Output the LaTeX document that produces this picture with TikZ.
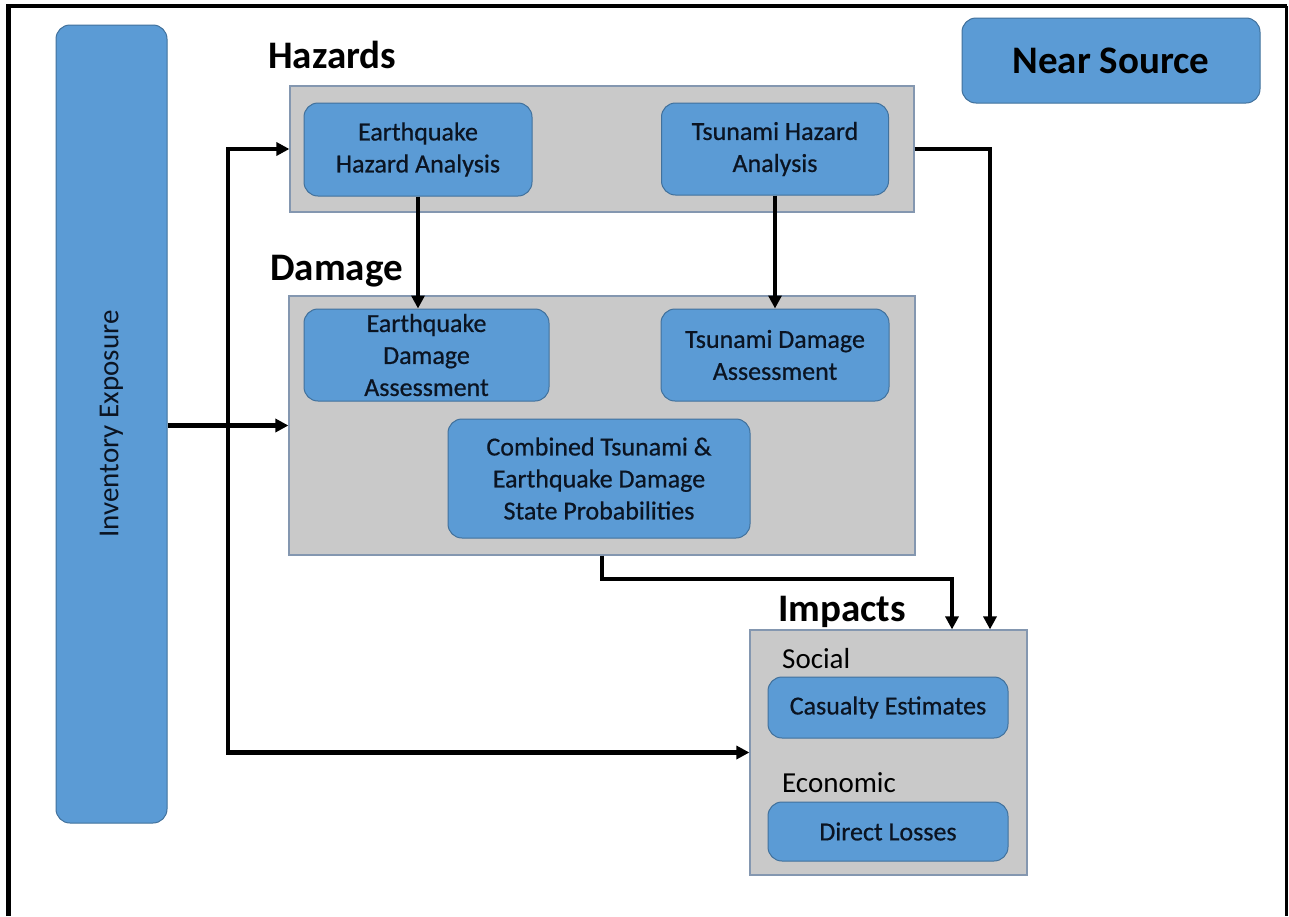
\documentclass[tikz,border=0pt]{standalone}
\usepackage{fontspec}
\setmainfont{Carlito}
\usetikzlibrary{arrows.meta}
\definecolor{boxblue}{HTML}{5B9BD5}
\definecolor{boxedge}{HTML}{41719C}
\definecolor{panelgrey}{HTML}{C9C9C9}
\definecolor{paneledge}{HTML}{8497B0}
\definecolor{inktext}{HTML}{0B1422}

\begin{document}
\begin{tikzpicture}[x=1pt,y=-1pt,
  blockbox/.style={draw=boxedge, fill=boxblue, line width=1pt, rounded corners=14pt,
    inner sep=0pt, align=center, text=inktext,
    font=\fontsize{26}{32}\selectfont\addfontfeature{FakeBold=0.6}},
  panel/.style={draw=paneledge, fill=panelgrey, line width=1.2pt, inner sep=0pt},
  heading/.style={font=\fontsize{39}{46}\selectfont\bfseries, inner sep=0pt, anchor=base west},
  sublabel/.style={font=\fontsize{29}{34}\selectfont, inner sep=0pt, anchor=base west},
  flow/.style={line width=4.2pt, -{Triangle[length=13pt,width=13pt]}},
  flowboth/.style={line width=4.2pt, {Triangle[length=13pt,width=13pt]}-{Triangle[length=13pt,width=13pt]}},
]
\useasboundingbox (0,0) rectangle (1289,916);
\fill[white] (0,0) rectangle (1289,916);

% outer frame
\draw[line width=4.5pt] (8.5,916) -- (8.5,6) -- (1286.5,6);
\draw[line width=3pt] (1286.5,6) -- (1286.5,916);

% side column and badge
\node[blockbox, minimum width=111pt, minimum height=798pt] (inv) at (111.5,424) {};
\node[rotate=90, inner sep=0pt, text=inktext, font=\fontsize{29}{34}\selectfont] (invlbl) at (inv.center) {Inventory Exposure};
\node[blockbox, minimum width=298pt, minimum height=85pt, font=\fontsize{39}{46}\selectfont\bfseries, text=black] (near) at (1111,60.5) {Near Source};

% grey panels
\node[panel, minimum width=624pt, minimum height=126pt] (hazG) at (602,149) {};
\node[panel, minimum width=626pt, minimum height=259pt] (dmgG) at (602,425.5) {};
\node[panel, minimum width=277pt, minimum height=245pt] (impG) at (888.5,752.5) {};

% panel headings
\node[heading] (hazT) at (268,68) {Hazards};
\node[heading] (dmgT) at (270,280) {Damage};
\node[heading] (impT) at (778,621) {Impacts};

% hazard boxes
\node[blockbox, minimum width=228pt, minimum height=93pt] (eqH) at (418,149.5) {Earthquake\\Hazard Analysis};
\node[blockbox, minimum width=227pt, minimum height=92pt] (tsH) at (775,149) {Tsunami Hazard\\Analysis};

% damage boxes
\node[blockbox, minimum width=245pt, minimum height=92pt] (eqD) at (426.5,355) {Earthquake\\Damage\\Assessment};
\node[blockbox, minimum width=228pt, minimum height=92pt] (tsD) at (775,355) {Tsunami Damage\\Assessment};
\node[blockbox, minimum width=302pt, minimum height=119pt] (comb) at (599,478.5) {Combined Tsunami \&\\Earthquake Damage\\State Probabilities};

% impact boxes
\node[sublabel] (soc) at (782,668) {Social};
\node[blockbox, minimum width=240pt, minimum height=61pt] (cas) at (888,707.5) {Casualty Estimates};
\node[sublabel] (eco) at (782,792) {Economic};
\node[blockbox, minimum width=240pt, minimum height=59pt] (dir) at (888,831.5) {Direct Losses};

% routing points
\coordinate (bus) at (228,450);
\coordinate (tsDrop) at (990,0);
\coordinate (cmbDrop) at (952,0);

% connectors
\draw[flow] (inv.east |- dmgG.west) -- (dmgG.west);
\draw[flowboth] (hazG.west) -| (bus) |- (impG.west);
\draw[flow] (eqH.south) -- (eqH.south |- eqD.north);
\draw[flow] (tsH.south) -- (tsH.south |- tsD.north);
\draw[flow] (hazG.east) -| (tsDrop |- impG.north);
\draw[flow] (dmgG.south) -- ++(0,23) -| (cmbDrop |- impG.north);
\end{tikzpicture}
\end{document}
